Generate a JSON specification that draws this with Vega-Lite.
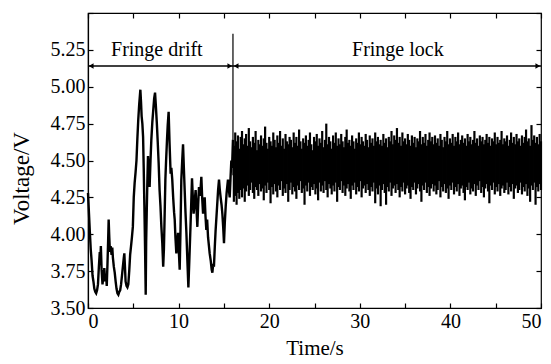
{
  "$schema": "https://vega.github.io/schema/vega-lite/v6.json",
  "width": 453,
  "height": 295,
  "autosize": "none",
  "padding": {"left": 88, "top": 13, "right": 10, "bottom": 56},
  "background": "white",
  "config": {
    "view": {"stroke": "black", "strokeWidth": 1.2},
    "font": "Liberation Serif, Times New Roman, serif",
    "text": {"font": "Liberation Serif, Times New Roman, serif"},
    "axis": {
      "grid": false,
      "domainColor": "black",
      "domainWidth": 1.2,
      "tickColor": "black",
      "tickWidth": 1.2,
      "tickSize": -5,
      "labelColor": "black",
      "titleColor": "black",
      "labelFont": "Liberation Serif, Times New Roman, serif",
      "titleFont": "Liberation Serif, Times New Roman, serif",
      "labelFontSize": 20,
      "titleFontSize": 21,
      "titleFontWeight": "normal"
    }
  },
  "datasets": {
    "drift": [
      {"t":0.0,"v":4.28},{"t":0.1,"v":4.15},{"t":0.2,"v":4.02},{"t":0.3,"v":3.90},{"t":0.4,"v":3.82},{"t":0.5,"v":3.72},{"t":0.6,"v":3.68},{"t":0.7,"v":3.63},{"t":0.8,"v":3.61},{"t":0.9,"v":3.60},
      {"t":1.0,"v":3.62},{"t":1.1,"v":3.66},{"t":1.2,"v":3.78},{"t":1.3,"v":3.88},{"t":1.35,"v":3.80},{"t":1.42,"v":3.92},{"t":1.5,"v":3.76},{"t":1.6,"v":3.66},{"t":1.7,"v":3.72},{"t":1.8,"v":3.77},
      {"t":1.9,"v":3.68},{"t":2.0,"v":3.72},{"t":2.07,"v":3.65},{"t":2.15,"v":3.80},{"t":2.22,"v":3.95},{"t":2.28,"v":4.10},{"t":2.35,"v":3.98},{"t":2.42,"v":3.88},{"t":2.5,"v":3.92},{"t":2.6,"v":3.86},
      {"t":2.68,"v":3.91},{"t":2.75,"v":3.84},{"t":2.85,"v":3.78},{"t":2.95,"v":3.74},{"t":3.05,"v":3.68},{"t":3.15,"v":3.63},{"t":3.25,"v":3.60},{"t":3.35,"v":3.59},{"t":3.45,"v":3.61},{"t":3.55,"v":3.62},
      {"t":3.65,"v":3.66},{"t":3.75,"v":3.72},{"t":3.85,"v":3.78},{"t":3.95,"v":3.84},{"t":4.01,"v":3.87},{"t":4.08,"v":3.78},{"t":4.15,"v":3.68},{"t":4.25,"v":3.65},{"t":4.35,"v":3.64},{"t":4.45,"v":3.66},
      {"t":4.55,"v":3.75},{"t":4.65,"v":3.86},{"t":4.75,"v":3.92},{"t":4.85,"v":3.98},{"t":4.95,"v":4.05},{"t":5.05,"v":4.25},{"t":5.15,"v":4.35},{"t":5.25,"v":4.42},{"t":5.35,"v":4.50},{"t":5.45,"v":4.65},
      {"t":5.55,"v":4.78},{"t":5.65,"v":4.88},{"t":5.78,"v":4.98},{"t":5.85,"v":4.90},{"t":5.92,"v":4.80},{"t":6.0,"v":4.75},{"t":6.08,"v":4.66},{"t":6.15,"v":4.45},{"t":6.22,"v":4.20},{"t":6.3,"v":3.90},
      {"t":6.37,"v":3.59},{"t":6.42,"v":3.95},{"t":6.48,"v":4.14},{"t":6.55,"v":4.35},{"t":6.62,"v":4.53},{"t":6.7,"v":4.42},{"t":6.8,"v":4.32},{"t":6.9,"v":4.50},{"t":6.99,"v":4.64},{"t":7.1,"v":4.76},
      {"t":7.2,"v":4.84},{"t":7.3,"v":4.92},{"t":7.4,"v":4.96},{"t":7.5,"v":4.86},{"t":7.6,"v":4.75},{"t":7.7,"v":4.62},{"t":7.8,"v":4.48},{"t":7.9,"v":4.30},{"t":8.0,"v":4.19},{"t":8.1,"v":4.05},
      {"t":8.2,"v":3.94},{"t":8.3,"v":3.78},{"t":8.38,"v":3.90},{"t":8.45,"v":4.10},{"t":8.54,"v":4.37},{"t":8.62,"v":4.50},{"t":8.72,"v":4.64},{"t":8.8,"v":4.74},{"t":8.9,"v":4.83},{"t":9.0,"v":4.62},
      {"t":9.12,"v":4.41},{"t":9.2,"v":4.45},{"t":9.3,"v":4.37},{"t":9.4,"v":4.25},{"t":9.5,"v":4.15},{"t":9.57,"v":4.10},{"t":9.65,"v":3.98},{"t":9.75,"v":3.87},{"t":9.85,"v":3.95},{"t":9.94,"v":4.01},
      {"t":10.03,"v":3.88},{"t":10.12,"v":3.76},{"t":10.2,"v":4.00},{"t":10.3,"v":4.37},{"t":10.4,"v":4.50},{"t":10.49,"v":4.61},{"t":10.58,"v":4.45},{"t":10.67,"v":4.30},{"t":10.76,"v":4.15},{"t":10.86,"v":4.01},
      {"t":10.97,"v":3.82},{"t":11.08,"v":3.64},{"t":11.2,"v":3.85},{"t":11.3,"v":4.03},{"t":11.4,"v":4.22},{"t":11.48,"v":4.38},{"t":11.57,"v":4.25},{"t":11.66,"v":4.14},{"t":11.77,"v":4.22},{"t":11.88,"v":4.30},
      {"t":11.97,"v":4.18},{"t":12.07,"v":4.05},{"t":12.16,"v":4.20},{"t":12.25,"v":4.32},{"t":12.38,"v":4.26},{"t":12.51,"v":4.39},{"t":12.6,"v":4.25},{"t":12.7,"v":4.14},{"t":12.8,"v":4.22},{"t":12.88,"v":4.25},
      {"t":12.97,"v":4.12},{"t":13.06,"v":4.03},{"t":13.15,"v":4.10},{"t":13.25,"v":3.98},{"t":13.35,"v":3.92},{"t":13.43,"v":3.87},{"t":13.55,"v":3.82},{"t":13.65,"v":3.76},{"t":13.73,"v":3.74},{"t":13.82,"v":3.80},
      {"t":13.9,"v":3.78},{"t":14.0,"v":3.92},{"t":14.08,"v":4.02},{"t":14.16,"v":4.10},{"t":14.26,"v":4.20},{"t":14.36,"v":4.30},{"t":14.46,"v":4.37},{"t":14.55,"v":4.30},{"t":14.64,"v":4.25},{"t":14.74,"v":4.20},
      {"t":14.83,"v":4.14},{"t":14.92,"v":4.05},{"t":15.01,"v":3.94},{"t":15.1,"v":4.08},{"t":15.2,"v":4.19},{"t":15.3,"v":4.28},{"t":15.45,"v":4.37},{"t":15.55,"v":4.30},{"t":15.64,"v":4.25},{"t":15.73,"v":4.38},
      {"t":15.82,"v":4.50},{"t":15.9,"v":4.45},{"t":16.0,"v":4.64}
    ],
    "lock": [
      {"t":16.1,"lo":4.22,"hi":4.60},{"t":16.25,"lo":4.26,"hi":4.69},{"t":16.4,"lo":4.20,"hi":4.63},{"t":16.55,"lo":4.28,"hi":4.67},{"t":16.7,"lo":4.24,"hi":4.58},{"t":16.85,"lo":4.30,"hi":4.66},{"t":17.0,"lo":4.25,"hi":4.70},{"t":17.15,"lo":4.31,"hi":4.61},{"t":17.3,"lo":4.22,"hi":4.65},{"t":17.45,"lo":4.29,"hi":4.68},
      {"t":17.6,"lo":4.33,"hi":4.60},{"t":17.75,"lo":4.26,"hi":4.72},{"t":17.9,"lo":4.30,"hi":4.63},{"t":18.05,"lo":4.35,"hi":4.59},{"t":18.2,"lo":4.28,"hi":4.66},{"t":18.35,"lo":4.24,"hi":4.62},{"t":18.5,"lo":4.32,"hi":4.70},{"t":18.65,"lo":4.30,"hi":4.57},{"t":18.8,"lo":4.26,"hi":4.64},{"t":18.95,"lo":4.34,"hi":4.61},
      {"t":19.1,"lo":4.29,"hi":4.67},{"t":19.25,"lo":4.31,"hi":4.60},{"t":19.4,"lo":4.23,"hi":4.65},{"t":19.55,"lo":4.33,"hi":4.73},{"t":19.7,"lo":4.28,"hi":4.62},{"t":19.85,"lo":4.35,"hi":4.58},{"t":20.0,"lo":4.30,"hi":4.66},{"t":20.15,"lo":4.21,"hi":4.63},{"t":20.3,"lo":4.32,"hi":4.60},{"t":20.45,"lo":4.27,"hi":4.69},
      {"t":20.6,"lo":4.34,"hi":4.64},{"t":20.75,"lo":4.29,"hi":4.59},{"t":20.9,"lo":4.25,"hi":4.67},{"t":21.05,"lo":4.33,"hi":4.62},{"t":21.2,"lo":4.30,"hi":4.70},{"t":21.35,"lo":4.36,"hi":4.60},{"t":21.5,"lo":4.26,"hi":4.65},{"t":21.65,"lo":4.31,"hi":4.58},{"t":21.8,"lo":4.28,"hi":4.68},{"t":21.95,"lo":4.34,"hi":4.63},
      {"t":22.1,"lo":4.22,"hi":4.61},{"t":22.25,"lo":4.30,"hi":4.66},{"t":22.4,"lo":4.35,"hi":4.64},{"t":22.55,"lo":4.27,"hi":4.59},{"t":22.7,"lo":4.32,"hi":4.69},{"t":22.85,"lo":4.29,"hi":4.62},{"t":23.0,"lo":4.24,"hi":4.66},{"t":23.15,"lo":4.33,"hi":4.60},{"t":23.3,"lo":4.30,"hi":4.71},{"t":23.45,"lo":4.36,"hi":4.63},
      {"t":23.6,"lo":4.28,"hi":4.58},{"t":23.75,"lo":4.31,"hi":4.65},{"t":23.9,"lo":4.20,"hi":4.62},{"t":24.05,"lo":4.33,"hi":4.67},{"t":24.2,"lo":4.29,"hi":4.60},{"t":24.35,"lo":4.35,"hi":4.64},{"t":24.5,"lo":4.26,"hi":4.69},{"t":24.65,"lo":4.32,"hi":4.61},{"t":24.8,"lo":4.30,"hi":4.57},{"t":24.95,"lo":4.34,"hi":4.66},
      {"t":25.1,"lo":4.27,"hi":4.63},{"t":25.25,"lo":4.31,"hi":4.68},{"t":25.4,"lo":4.23,"hi":4.60},{"t":25.55,"lo":4.35,"hi":4.65},{"t":25.7,"lo":4.29,"hi":4.62},{"t":25.85,"lo":4.33,"hi":4.70},{"t":26.0,"lo":4.28,"hi":4.59},{"t":26.15,"lo":4.36,"hi":4.64},{"t":26.3,"lo":4.30,"hi":4.75},{"t":26.45,"lo":4.25,"hi":4.61},
      {"t":26.6,"lo":4.34,"hi":4.66},{"t":26.75,"lo":4.31,"hi":4.63},{"t":26.9,"lo":4.27,"hi":4.58},{"t":27.05,"lo":4.33,"hi":4.67},{"t":27.2,"lo":4.29,"hi":4.62},{"t":27.35,"lo":4.35,"hi":4.69},{"t":27.5,"lo":4.22,"hi":4.60},{"t":27.65,"lo":4.32,"hi":4.65},{"t":27.8,"lo":4.30,"hi":4.61},{"t":27.95,"lo":4.36,"hi":4.68},
      {"t":28.1,"lo":4.28,"hi":4.63},{"t":28.25,"lo":4.33,"hi":4.59},{"t":28.4,"lo":4.26,"hi":4.66},{"t":28.55,"lo":4.31,"hi":4.71},{"t":28.7,"lo":4.34,"hi":4.62},{"t":28.85,"lo":4.29,"hi":4.64},{"t":29.0,"lo":4.24,"hi":4.60},{"t":29.15,"lo":4.33,"hi":4.67},{"t":29.3,"lo":4.30,"hi":4.63},{"t":29.45,"lo":4.35,"hi":4.58},
      {"t":29.6,"lo":4.27,"hi":4.65},{"t":29.75,"lo":4.32,"hi":4.62},{"t":29.9,"lo":4.29,"hi":4.69},{"t":30.05,"lo":4.36,"hi":4.61},{"t":30.2,"lo":4.25,"hi":4.66},{"t":30.35,"lo":4.31,"hi":4.63},{"t":30.5,"lo":4.33,"hi":4.60},{"t":30.65,"lo":4.28,"hi":4.68},{"t":30.8,"lo":4.34,"hi":4.64},{"t":30.95,"lo":4.30,"hi":4.59},
      {"t":31.1,"lo":4.26,"hi":4.67},{"t":31.25,"lo":4.32,"hi":4.62},{"t":31.4,"lo":4.29,"hi":4.65},{"t":31.55,"lo":4.35,"hi":4.60},{"t":31.7,"lo":4.21,"hi":4.69},{"t":31.85,"lo":4.31,"hi":4.63},{"t":32.0,"lo":4.27,"hi":4.66},{"t":32.15,"lo":4.33,"hi":4.61},{"t":32.3,"lo":4.19,"hi":4.64},{"t":32.45,"lo":4.30,"hi":4.60},
      {"t":32.6,"lo":4.34,"hi":4.68},{"t":32.75,"lo":4.28,"hi":4.62},{"t":32.9,"lo":4.20,"hi":4.65},{"t":33.05,"lo":4.32,"hi":4.59},{"t":33.2,"lo":4.29,"hi":4.66},{"t":33.35,"lo":4.35,"hi":4.63},{"t":33.5,"lo":4.26,"hi":4.70},{"t":33.65,"lo":4.31,"hi":4.61},{"t":33.8,"lo":4.33,"hi":4.67},{"t":33.95,"lo":4.28,"hi":4.64},
      {"t":34.1,"lo":4.34,"hi":4.72},{"t":34.25,"lo":4.30,"hi":4.62},{"t":34.4,"lo":4.25,"hi":4.66},{"t":34.55,"lo":4.32,"hi":4.60},{"t":34.7,"lo":4.29,"hi":4.69},{"t":34.85,"lo":4.35,"hi":4.63},{"t":35.0,"lo":4.27,"hi":4.65},{"t":35.15,"lo":4.31,"hi":4.61},{"t":35.3,"lo":4.33,"hi":4.68},{"t":35.45,"lo":4.28,"hi":4.64},
      {"t":35.6,"lo":4.24,"hi":4.60},{"t":35.75,"lo":4.32,"hi":4.67},{"t":35.9,"lo":4.30,"hi":4.62},{"t":36.05,"lo":4.35,"hi":4.66},{"t":36.2,"lo":4.27,"hi":4.59},{"t":36.35,"lo":4.31,"hi":4.65},{"t":36.5,"lo":4.34,"hi":4.63},{"t":36.65,"lo":4.29,"hi":4.70},{"t":36.8,"lo":4.22,"hi":4.61},{"t":36.95,"lo":4.33,"hi":4.66},
      {"t":37.1,"lo":4.30,"hi":4.62},{"t":37.25,"lo":4.35,"hi":4.68},{"t":37.4,"lo":4.28,"hi":4.60},{"t":37.55,"lo":4.32,"hi":4.64},{"t":37.7,"lo":4.26,"hi":4.69},{"t":37.85,"lo":4.31,"hi":4.63},{"t":38.0,"lo":4.34,"hi":4.66},{"t":38.15,"lo":4.29,"hi":4.61},{"t":38.3,"lo":4.33,"hi":4.67},{"t":38.45,"lo":4.27,"hi":4.62},
      {"t":38.6,"lo":4.30,"hi":4.65},{"t":38.75,"lo":4.36,"hi":4.60},{"t":38.9,"lo":4.25,"hi":4.68},{"t":39.05,"lo":4.32,"hi":4.64},{"t":39.2,"lo":4.29,"hi":4.59},{"t":39.35,"lo":4.34,"hi":4.66},{"t":39.5,"lo":4.28,"hi":4.63},{"t":39.65,"lo":4.31,"hi":4.70},{"t":39.8,"lo":4.24,"hi":4.61},{"t":39.95,"lo":4.33,"hi":4.65},
      {"t":40.1,"lo":4.30,"hi":4.62},{"t":40.25,"lo":4.35,"hi":4.68},{"t":40.4,"lo":4.27,"hi":4.60},{"t":40.55,"lo":4.32,"hi":4.66},{"t":40.7,"lo":4.29,"hi":4.63},{"t":40.85,"lo":4.34,"hi":4.69},{"t":41.0,"lo":4.26,"hi":4.61},{"t":41.15,"lo":4.31,"hi":4.64},{"t":41.3,"lo":4.33,"hi":4.67},{"t":41.45,"lo":4.28,"hi":4.62},
      {"t":41.6,"lo":4.23,"hi":4.65},{"t":41.75,"lo":4.32,"hi":4.60},{"t":41.9,"lo":4.30,"hi":4.68},{"t":42.05,"lo":4.35,"hi":4.63},{"t":42.2,"lo":4.27,"hi":4.66},{"t":42.35,"lo":4.31,"hi":4.61},{"t":42.5,"lo":4.29,"hi":4.64},{"t":42.65,"lo":4.34,"hi":4.70},{"t":42.8,"lo":4.26,"hi":4.62},{"t":42.95,"lo":4.33,"hi":4.65},
      {"t":43.1,"lo":4.30,"hi":4.60},{"t":43.25,"lo":4.36,"hi":4.67},{"t":43.4,"lo":4.28,"hi":4.63},{"t":43.55,"lo":4.32,"hi":4.66},{"t":43.7,"lo":4.25,"hi":4.61},{"t":43.85,"lo":4.31,"hi":4.64},{"t":44.0,"lo":4.34,"hi":4.68},{"t":44.15,"lo":4.29,"hi":4.62},{"t":44.3,"lo":4.21,"hi":4.66},{"t":44.45,"lo":4.33,"hi":4.60},
      {"t":44.6,"lo":4.30,"hi":4.65},{"t":44.75,"lo":4.35,"hi":4.63},{"t":44.9,"lo":4.27,"hi":4.69},{"t":45.05,"lo":4.32,"hi":4.61},{"t":45.2,"lo":4.29,"hi":4.66},{"t":45.35,"lo":4.34,"hi":4.62},{"t":45.5,"lo":4.26,"hi":4.64},{"t":45.65,"lo":4.31,"hi":4.70},{"t":45.8,"lo":4.33,"hi":4.61},{"t":45.95,"lo":4.28,"hi":4.65},
      {"t":46.1,"lo":4.30,"hi":4.63},{"t":46.25,"lo":4.35,"hi":4.67},{"t":46.4,"lo":4.27,"hi":4.60},{"t":46.55,"lo":4.32,"hi":4.64},{"t":46.7,"lo":4.29,"hi":4.69},{"t":46.85,"lo":4.34,"hi":4.62},{"t":47.0,"lo":4.24,"hi":4.66},{"t":47.15,"lo":4.31,"hi":4.61},{"t":47.3,"lo":4.33,"hi":4.68},{"t":47.45,"lo":4.28,"hi":4.63},
      {"t":47.6,"lo":4.30,"hi":4.65},{"t":47.75,"lo":4.35,"hi":4.60},{"t":47.9,"lo":4.27,"hi":4.67},{"t":48.05,"lo":4.32,"hi":4.62},{"t":48.2,"lo":4.29,"hi":4.66},{"t":48.35,"lo":4.34,"hi":4.71},{"t":48.5,"lo":4.26,"hi":4.63},{"t":48.65,"lo":4.31,"hi":4.65},{"t":48.8,"lo":4.22,"hi":4.60},{"t":48.95,"lo":4.33,"hi":4.74},
      {"t":49.1,"lo":4.30,"hi":4.64},{"t":49.25,"lo":4.35,"hi":4.67},{"t":49.4,"lo":4.20,"hi":4.62},{"t":49.55,"lo":4.32,"hi":4.66},{"t":49.7,"lo":4.29,"hi":4.61},{"t":49.85,"lo":4.34,"hi":4.68},{"t":50.0,"lo":4.30,"hi":4.63}
    ],
    "spans": [{"a":0,"b":16,"v":5.14},{"a":16,"b":50,"v":5.14}],
    "heads": [
      {"t":0.35,"v":5.14,"dir":"left"},{"t":15.65,"v":5.14,"dir":"right"},
      {"t":16.35,"v":5.14,"dir":"left"},{"t":49.65,"v":5.14,"dir":"right"}
    ],
    "marker": [{"t":16,"v0":4.4,"v1":5.36}],
    "labels": [{"t":7.6,"v":5.25,"text":"Fringe drift"},{"t":34.2,"v":5.25,"text":"Fringe lock"}]
  },
  "layer": [
    {
      "data": {"name": "drift"},
      "mark": {"type": "line", "color": "black", "strokeWidth": 2.4},
      "encoding": {
        "x": {"field": "t", "type": "quantitative", "scale": {"domain": [0, 50], "nice": false},
              "axis": {"orient": "bottom", "title": "Time/s", "values": [0,5,10,15,20,25,30,35,40,45,50], "labelExpr": "datum.value % 10 === 0 ? datum.label : ''", "labelPadding": 8, "titlePadding": 6}},
        "y": {"field": "v", "type": "quantitative", "scale": {"domain": [3.5, 5.5], "nice": false},
              "axis": {"orient": "left", "title": "Voltage/V", "values": [3.5,3.75,4,4.25,4.5,4.75,5,5.25,5.5], "format": ".2f", "labelExpr": "datum.value > 5.4 ? '' : datum.label", "labelPadding": 8,
                       "titleFontSize": 23, "titleX": -60, "titleY": 165, "titleBaseline": "alphabetic", "titleAlign": "center", "titleAngle": 270}}
      }
    },
    {
      "data": {"name": "lock"},
      "mark": {"type": "rule", "color": "black", "strokeWidth": 2.2},
      "encoding": {
        "x": {"field": "t", "type": "quantitative", "scale": {"domain": [0, 50], "nice": false},
              "axis": {"orient": "top", "title": null, "labels": false, "domain": false, "values": [0,5,10,15,20,25,30,35,40,45,50]}},
        "y": {"field": "lo", "type": "quantitative", "scale": {"domain": [3.5, 5.5], "nice": false},
              "axis": {"orient": "right", "title": null, "labels": false, "domain": false, "values": [3.5,3.75,4,4.25,4.5,4.75,5,5.25,5.5]}},
        "y2": {"field": "hi"}
      }
    },
    {
      "data": {"name": "marker"},
      "mark": {"type": "rule", "color": "black", "strokeWidth": 1.2},
      "encoding": {
        "x": {"field": "t", "type": "quantitative", "scale": {"domain": [0, 50], "nice": false}, "axis": null},
        "y": {"field": "v0", "type": "quantitative", "scale": {"domain": [3.5, 5.5], "nice": false}, "axis": null},
        "y2": {"field": "v1"}
      }
    },
    {
      "data": {"name": "spans"},
      "mark": {"type": "rule", "color": "black", "strokeWidth": 1.5},
      "encoding": {
        "x": {"field": "a", "type": "quantitative", "scale": {"domain": [0, 50], "nice": false}, "axis": null},
        "x2": {"field": "b"},
        "y": {"field": "v", "type": "quantitative", "scale": {"domain": [3.5, 5.5], "nice": false}, "axis": null}
      }
    },
    {
      "data": {"name": "heads"},
      "mark": {"type": "point", "filled": true, "color": "black", "size": 30, "opacity": 1},
      "encoding": {
        "x": {"field": "t", "type": "quantitative", "scale": {"domain": [0, 50], "nice": false}, "axis": null},
        "y": {"field": "v", "type": "quantitative", "scale": {"domain": [3.5, 5.5], "nice": false}, "axis": null},
        "shape": {"field": "dir", "type": "nominal", "scale": {"domain": ["left", "right"], "range": ["triangle-left", "triangle-right"]}, "legend": null}
      }
    },
    {
      "data": {"name": "labels"},
      "mark": {"type": "text", "font": "Liberation Serif, Times New Roman, serif", "fontSize": 20, "color": "black", "baseline": "middle", "align": "center"},
      "encoding": {
        "x": {"field": "t", "type": "quantitative", "scale": {"domain": [0, 50], "nice": false}, "axis": null},
        "y": {"field": "v", "type": "quantitative", "scale": {"domain": [3.5, 5.5], "nice": false}, "axis": null},
        "text": {"field": "text"}
      }
    }
  ],
  "resolve": {"axis": {"x": "independent", "y": "independent"}}
}
